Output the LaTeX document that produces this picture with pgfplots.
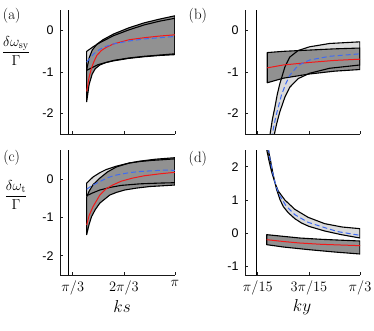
\documentclass[border=0pt]{standalone}
\usepackage{pgfplots}
\pgfplotsset{compat=1.18}
\usepackage{pgfplotstable}
\usepackage{fontspec}
\newfontfamily\hv{Liberation Sans}

\definecolor{darkband}{gray}{0.57}
\definecolor{lightband}{gray}{0.86}
\definecolor{dashblue}{rgb}{0.25,0.42,0.95}
\definecolor{solidred}{rgb}{0.95,0.1,0.1}

\pgfplotsset{
  panel/.style={
    scale only axis, width=115pt,
    axis lines=left, axis line style={-, black!90, line width=0.7pt},
    tick align=inside, major tick length=3pt,
    every tick/.style={black!90, line width=0.7pt},
    axis on top, clip=true, clip mode=individual,
    yticklabel style={font=\hv\fontsize{12.5}{14}\selectfont, xshift=-3pt},
    xticklabel style={font=\fontsize{13.5}{15}\selectfont, yshift=-2pt},
  },
  panelks/.style={xmin=0.25, xmax=1, xtick={0.33333,0.66667,1}},
  panelky/.style={xmin=0.5, xmax=5, xtick={1,3,5}},
  bandfill/.style={draw=none, fill=#1},
  bandline/.style={draw=black, line width=1.1pt, line join=round, fill=none},
  redline/.style={solidred, line width=1pt, no marks},
  blueline/.style={dashblue, line width=1pt, dash pattern=on 5pt off 3pt, no marks},
}

% polygons: upper edge left to right, then lower edge right to left
\pgfplotstableread{
x y
0.424 -0.50
0.47 -0.38
0.51 -0.29
0.60 -0.12
0.70 0.02
0.80 0.14
0.90 0.23
1.00 0.30
1.00 -0.56
0.90 -0.59
0.80 -0.62
0.70 -0.66
0.60 -0.72
0.50 -0.82
0.424 -0.96
}\aLight
\pgfplotstableread{
x y
0.424 -0.95
0.44 -0.66
0.46 -0.47
0.49 -0.33
0.53 -0.22
0.60 -0.08
0.70 0.07
0.80 0.19
0.90 0.28
1.00 0.36
1.00 -0.58
0.90 -0.60
0.80 -0.63
0.70 -0.67
0.60 -0.73
0.55 -0.77
0.51 -0.83
0.48 -0.92
0.46 -1.05
0.44 -1.30
0.424 -1.72
}\aDark
\pgfplotstableread{
x y
1.38 -3.0
1.475 -2.53
1.57 -2.15
1.67 -1.85
1.76 -1.55
1.86 -1.29
2.06 -0.88
2.25 -0.64
2.58 -0.48
3.03 -0.39
3.81 -0.31
5.00 -0.27
5.00 -0.83
3.81 -0.91
3.03 -1.03
2.58 -1.16
2.25 -1.37
2.06 -1.61
1.86 -1.97
1.74 -2.25
1.64 -2.53
1.55 -3.0
}\bLight
\pgfplotstableread{
x y
1.37 -0.53
2 -0.50
3 -0.47
4 -0.44
5 -0.42
5 -0.94
4 -0.98
3 -1.05
2 -1.15
1.37 -1.26
}\bDark
\pgfplotstableread{
x y
0.424 -0.11
0.466 0.05
0.51 0.16
0.55 0.24
0.618 0.33
0.70 0.41
0.77 0.45
0.85 0.48
0.93 0.50
1.00 0.52
1.00 -0.10
0.90 -0.11
0.77 -0.13
0.65 -0.17
0.58 -0.22
0.51 -0.29
0.46 -0.37
0.424 -0.44
}\cLight
\pgfplotstableread{
x y
0.424 -0.47
0.44 -0.32
0.466 -0.15
0.51 0.02
0.56 0.18
0.618 0.31
0.70 0.41
0.77 0.46
0.87 0.51
1.00 0.55
1.00 -0.16
0.92 -0.18
0.835 -0.20
0.75 -0.24
0.672 -0.29
0.62 -0.35
0.575 -0.42
0.51 -0.63
0.48 -0.80
0.456 -0.98
0.44 -1.18
0.424 -1.45
}\cDark
\pgfplotstableread{
x y
1.30 3.1
1.346 2.52
1.45 2.14
1.54 1.85
1.67 1.52
1.80 1.27
2.06 1.00
2.45 0.72
2.97 0.48
3.62 0.29
4.30 0.19
5.00 0.14
5.00 -0.14
4.27 -0.04
3.62 0.07
3.00 0.21
2.71 0.31
2.45 0.44
2.19 0.62
2.00 0.80
1.865 1.02
1.73 1.33
1.603 1.76
1.50 2.18
1.408 2.52
1.36 3.1
}\dLight
\pgfplotstableread{
x y
1.35 -0.04
2.0 -0.09
2.64 -0.14
3.5 -0.18
5.0 -0.23
5.0 -0.62
4.0 -0.56
3.0 -0.49
2.0 -0.41
1.35 -0.34
}\dDark

\begin{document}
\begin{tikzpicture}
\useasboundingbox (0,0) rectangle (374pt,330pt);

% (a)
\begin{axis}[panel, panelks, at={(60pt,196pt)}, anchor=south west, height=124pt,
  ymin=-2.5, ymax=0.5, ytick={-2,-1,0}, yticklabels={-2,-1,0}, xticklabels={}]
  \addplot[bandfill=lightband] table {\aLight} -- cycle;
  \addplot[bandfill=darkband] table {\aDark} -- cycle;
  \addplot[bandline] table {\aLight} -- cycle;
  \addplot[bandline] table {\aDark} -- cycle;
  \addplot[black, line width=0.8pt] coordinates {(0.304,-2.5) (0.304,0.5)};
  \addplot[redline] coordinates {(0.424,-1.47) (0.44,-1.12) (0.456,-0.9) (0.47,-0.76) (0.49,-0.6) (0.52,-0.48) (0.553,-0.4) (0.6,-0.32) (0.7,-0.22) (0.8,-0.17) (0.9,-0.13) (1.0,-0.1)};
  \addplot[blueline] coordinates {(0.424,-0.76) (0.45,-0.65) (0.47,-0.56) (0.51,-0.45) (0.55,-0.38) (0.6,-0.32) (0.7,-0.25) (0.8,-0.2) (0.9,-0.17) (1.0,-0.14)};
  \node at (axis description cs:-0.42,0.955) {\fontsize{15}{17}\selectfont (a)};
  \node at (axis description cs:-0.383,0.669) {\fontsize{14.5}{16}\selectfont $\displaystyle\frac{\delta\omega_{\mathrm{sy}}}{\Gamma}$};
\end{axis}

% (b)
\begin{axis}[panel, panelky, at={(245pt,196pt)}, anchor=south west, height=124pt,
  ymin=-2.5, ymax=0.5, ytick={-2,-1,0}, yticklabels={-2,-1,0}, xticklabels={}]
  \addplot[bandfill=lightband] table {\bLight} -- cycle;
  \addplot[bandfill=darkband] table {\bDark} -- cycle;
  \addplot[bandline] table {\bLight} -- cycle;
  \addplot[bandline] table {\bDark} -- cycle;
  \addplot[black, line width=0.8pt] coordinates {(0.96,-2.5) (0.96,0.5)};
  \addplot[redline] coordinates {(1.37,-0.90) (2,-0.83) (3,-0.77) (4,-0.72) (5,-0.69)};
  \addplot[blueline] coordinates {(1.50,-2.8) (1.54,-2.62) (1.63,-2.3) (1.73,-2.02) (1.93,-1.55) (2.1,-1.28) (2.25,-1.08) (2.58,-0.84) (3.03,-0.71) (3.81,-0.62) (5,-0.56)};
  \node at (axis description cs:-0.41,0.95) {\fontsize{15}{17}\selectfont (b)};
\end{axis}

% (c)
\begin{axis}[panel, panelks, at={(60pt,55pt)}, anchor=south west, height=125pt,
  ymin=-2.5, ymax=0.75, ytick={-2,-1,0}, yticklabels={-2,-1,0},
  xticklabels={$\pi/3$,$2\pi/3$,$\pi$}]
  \addplot[bandfill=lightband] table {\cLight} -- cycle;
  \addplot[bandfill=darkband] table {\cDark} -- cycle;
  \addplot[bandline] table {\cLight} -- cycle;
  \addplot[bandline] table {\cDark} -- cycle;
  \addplot[black, line width=0.8pt] coordinates {(0.304,-2.5) (0.304,0.75)};
  \addplot[redline] coordinates {(0.424,-1.20) (0.44,-0.95) (0.466,-0.72) (0.51,-0.42) (0.55,-0.26) (0.594,-0.16) (0.65,-0.06) (0.724,0.02) (0.8,0.08) (0.9,0.13) (1.0,0.17)};
  \addplot[blueline] coordinates {(0.424,-0.27) (0.46,-0.17) (0.51,-0.07) (0.56,0.03) (0.618,0.10) (0.7,0.16) (0.77,0.19) (0.85,0.21) (0.943,0.23) (1.0,0.22)};
  \node at (axis description cs:-0.42,0.94) {\fontsize{15}{17}\selectfont (c)};
  \node at (axis description cs:-0.383,0.64) {\fontsize{14.5}{16}\selectfont $\displaystyle\frac{\delta\omega_{\mathrm{t}}}{\Gamma}$};
  \node at (axis description cs:0.54,-0.255) {\fontsize{17}{19}\selectfont $ks$};
\end{axis}

% (d)
\begin{axis}[panel, panelky, at={(245pt,55pt)}, anchor=south west, height=125pt,
  ymin=-1.25, ymax=2.5, ytick={-1,0,1,2}, yticklabels={-1,0,1,2},
  xticklabels={$\pi/15$,$3\pi/15$,$\pi/3$}]
  \addplot[bandfill=lightband] table {\dLight} -- cycle;
  \addplot[bandfill=darkband] table {\dDark} -- cycle;
  \addplot[bandline] table {\dLight} -- cycle;
  \addplot[bandline] table {\dDark} -- cycle;
  \addplot[black, line width=0.8pt] coordinates {(0.96,-1.25) (0.96,2.5)};
  \addplot[redline] coordinates {(1.35,-0.19) (2,-0.245) (2.64,-0.29) (3.5,-0.33) (5,-0.37)};
  \addplot[blueline] coordinates {(1.38,2.8) (1.45,2.35) (1.57,1.86) (1.70,1.45) (1.83,1.17) (2.1,0.83) (2.45,0.56) (2.97,0.33) (3.62,0.17) (4.14,0.05) (5,-0.06)};
  \node at (axis description cs:-0.41,0.93) {\fontsize{15}{17}\selectfont (d)};
  \node at (axis description cs:0.496,-0.255) {\fontsize{17}{19}\selectfont $ky$};
\end{axis}
\end{tikzpicture}
\end{document}
